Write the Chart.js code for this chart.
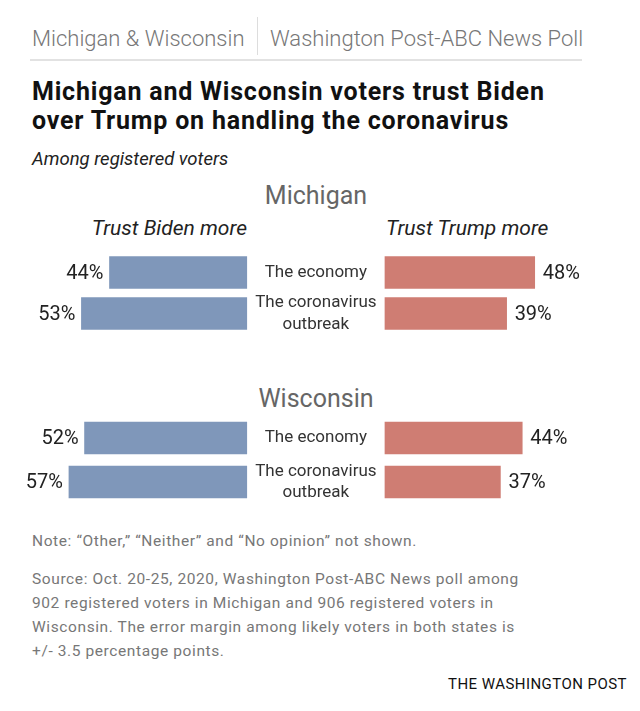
<!DOCTYPE html>
<html>
<head>
<meta charset="utf-8">
<script src="https://cdn.jsdelivr.net/npm/chart.js@4.4.1/dist/chart.umd.min.js"></script>
<style>
  body { margin: 0; width: 640px; height: 711px; background: #fff; font-family: Roboto, "Liberation Sans", sans-serif; position: relative; overflow: hidden; }
  .t { position: absolute; white-space: nowrap; line-height: 1; }
  .kicker { font-size: 22px; font-weight: 300; color: #777; top: 28px; }
  .headline { left: 32px; top: 78px; font-size: 25px; line-height: 28.5px; font-weight: 700; color: #111; letter-spacing: 0.8px; }
  .sub { left: 32px; top: 150px; font-size: 18.5px; font-style: italic; color: #222; }
  .state { font-size: 25px; color: #666; width: 632px; left: 0; text-align: center; }
  .side { top: 218px; font-size: 21px; font-style: italic; color: #222; }
  .note { left: 32px; font-size: 15.5px; color: #777; letter-spacing: 0.6px; }
  .chartbox { position: absolute; left: 0; width: 640px; }
</style>
</head>
<body>
<div class="t kicker" style="left:32px">Michigan &amp; Wisconsin</div>
<div style="position:absolute;left:257px;top:17px;width:1px;height:38px;background:#ddd"></div>
<div class="t kicker" style="left:270px">Washington Post-ABC News Poll</div>
<div style="position:absolute;left:30px;top:59px;width:552px;height:2px;background:#e2e2e2"></div>

<div class="t headline">Michigan and Wisconsin voters trust Biden<br>over Trump on handling the coronavirus</div>
<div class="t sub">Among registered voters</div>

<div class="t state" style="top:183px">Michigan</div>
<div class="t side" style="right:393px">Trust Biden more</div>
<div class="t side" style="left:386px">Trust Trump more</div>
<div class="chartbox" style="top:231.5px;height:122px"><canvas id="michigan" width="640" height="122"></canvas></div>

<div class="t state" style="top:386px">Wisconsin</div>
<div class="chartbox" style="top:396.4px;height:128px"><canvas id="wisconsin" width="640" height="128"></canvas></div>

<div class="t note" style="top:534px">Note: “Other,” “Neither” and “No opinion” not shown.</div>
<div class="t note" style="top:567px;line-height:24px">Source: Oct. 20-25, 2020, Washington Post-ABC News poll among<br>902 registered voters in Michigan and 906 registered voters in<br>Wisconsin. The error margin among likely voters in both states is<br>+/- 3.5 percentage points.</div>
<div class="t" style="right:13px;top:677px;font-size:15px;color:#111;letter-spacing:0.45px">THE WASHINGTON POST</div>

<script>
// Data (percent of registered voters)
const categories = ['The economy', ['The coronavirus', 'outbreak']];
const michiganBiden = [44, 53];
const michiganTrump = [48, 39];
const wisconsinBiden = [52, 57];
const wisconsinTrump = [44, 37];

const BLUE = '#7f97ba';
const RED = '#cf7d73';
const GAP = 22.15;   // half of the empty middle column, in percentage units

// bars grow outward from the middle column
function leftBars(values) {
    return values.map(v => [-(GAP + v), -GAP]);
}
function rightBars(values) {
    return values.map(v => [GAP, GAP + v]);
}

// draws the row names in the middle and the percent next to each bar
const rowLabels = {
    id: 'rowLabels',
    afterDatasetsDraw(chart) {
        const ctx = chart.ctx;
        const xs = chart.scales.x;
        const ys = chart.scales.y;
        ctx.save();
        ctx.textBaseline = 'middle';

        ctx.font = '17px Roboto';
        ctx.fillStyle = '#333';
        ctx.textAlign = 'center';
        chart.data.labels.forEach((label, i) => {
            const lines = Array.isArray(label) ? label : [label];
            const cy = ys.getPixelForValue(i);
            lines.forEach((line, j) => {
                ctx.fillText(line, xs.getPixelForValue(0), cy + (j - (lines.length - 1) / 2) * 21.5);
            });
        });

        ctx.font = '20px Roboto';
        ctx.fillStyle = '#222';
        chart.data.datasets.forEach(ds => {
            ds.values.forEach((v, i) => {
                const cy = ys.getPixelForValue(i);
                if (ds.side === 'left') {
                    ctx.textAlign = 'right';
                    ctx.fillText(v + '%', xs.getPixelForValue(-(GAP + v)) - 6, cy + 1);
                } else {
                    ctx.textAlign = 'left';
                    ctx.fillText(v + '%', xs.getPixelForValue(GAP + v) + 8, cy + 1);
                }
            });
        });
        ctx.restore();
    }
};

function makeChart(id, biden, trump) {
    return new Chart(document.getElementById(id), {
        type: 'bar',
        data: {
            labels: categories,
            datasets: [
                { label: 'Trust Biden more', data: leftBars(biden), values: biden, side: 'left', backgroundColor: BLUE, grouped: false, barThickness: 32 },
                { label: 'Trust Trump more', data: rightBars(trump), values: trump, side: 'right', backgroundColor: RED, grouped: false, barThickness: 32 }
            ]
        },
        options: {
            indexAxis: 'y',
            responsive: false,
            animation: false,
            layout: { padding: { top: 20, bottom: 20, left: 0, right: 0 } },
            scales: {
                x: { display: false, min: -101.25, max: 103.9 },
                y: { display: false }
            },
            plugins: { legend: { display: false }, tooltip: { enabled: false } }
        },
        plugins: [rowLabels]
    });
}

makeChart('michigan', michiganBiden, michiganTrump);
makeChart('wisconsin', wisconsinBiden, wisconsinTrump);
</script>
</body>
</html>
